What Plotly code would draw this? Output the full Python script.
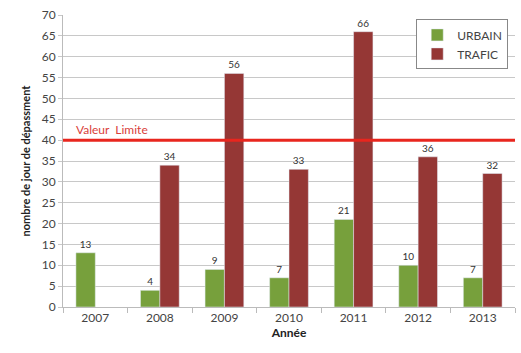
import plotly.graph_objects as go

years = ["2007", "2008", "2009", "2010", "2011", "2012", "2013"]
urbain = [13, 4, 9, 7, 21, 10, 7]
trafic = [None, 34, 56, 33, 66, 36, 32]
limit_value = 40
y_ticks = list(range(0, 75, 5))

FONT = "Lato, 'Open Sans', sans-serif"
GREEN = "#77a03c"
RED = "#953735"

fig = go.Figure()
fig.add_trace(go.Bar(
    x=years, y=urbain, name="URBAIN", marker_color=GREEN,
    text=[str(v) for v in urbain], textposition="outside",
    textfont=dict(size=10, color="#333"), cliponaxis=False,
    legendgroup="u",
))
fig.add_trace(go.Bar(
    x=years, y=trafic, name="TRAFIC", marker_color=RED,
    text=[str(v) if v is not None else "" for v in trafic], textposition="outside",
    textfont=dict(size=10, color="#333"), cliponaxis=False,
    legendgroup="t",
))

fig.add_shape(type="line", xref="paper", x0=0, x1=1, yref="y", y0=limit_value, y1=limit_value,
              line=dict(color="#e8261e", width=3), layer="above")
fig.add_annotation(text="Valeur  Limite", xref="paper", x=0.025, yref="y", y=limit_value,
                   yshift=11, xanchor="left", showarrow=False,
                   font=dict(family=FONT, size=12, color="#d9403a"))

fig.update_layout(
    width=521, height=353,
    margin=dict(l=63, r=6, t=15, b=46),
    paper_bgcolor="white", plot_bgcolor="white",
    font=dict(family=FONT, size=11, color="#444"),
    barmode="group", bargap=0.4, bargroupgap=0,
    showlegend=True,
    legend=dict(x=0.985, y=0.985, xanchor="right", yanchor="top",
                bordercolor="#888", borderwidth=1, bgcolor="white",
                font=dict(size=12, color="#444"), tracegroupgap=7,
                traceorder="normal", itemwidth=30),
    xaxis=dict(
        title=dict(text="<b>Année</b>", font=dict(size=12, color="#222"), standoff=4),
        showline=True, linecolor="#bbb", linewidth=1,
        ticks="outside", tickson="boundaries", ticklen=5, tickcolor="#bbb",
        tickfont=dict(size=12, color="#444"),
    ),
    yaxis=dict(
        title=dict(text="<b>nombre de jour de dépassment</b>", font=dict(size=11, color="#222"), standoff=8),
        range=[0, 70], tickvals=y_ticks,
        showgrid=True, gridcolor="#c8c8c8", gridwidth=1,
        showline=True, linecolor="#bbb", linewidth=1,
        ticks="outside", ticklen=4, tickcolor="#c8c8c8",
        tickfont=dict(size=12, color="#444"),
        zeroline=False,
    ),
)

fig.write_html("out.html")
